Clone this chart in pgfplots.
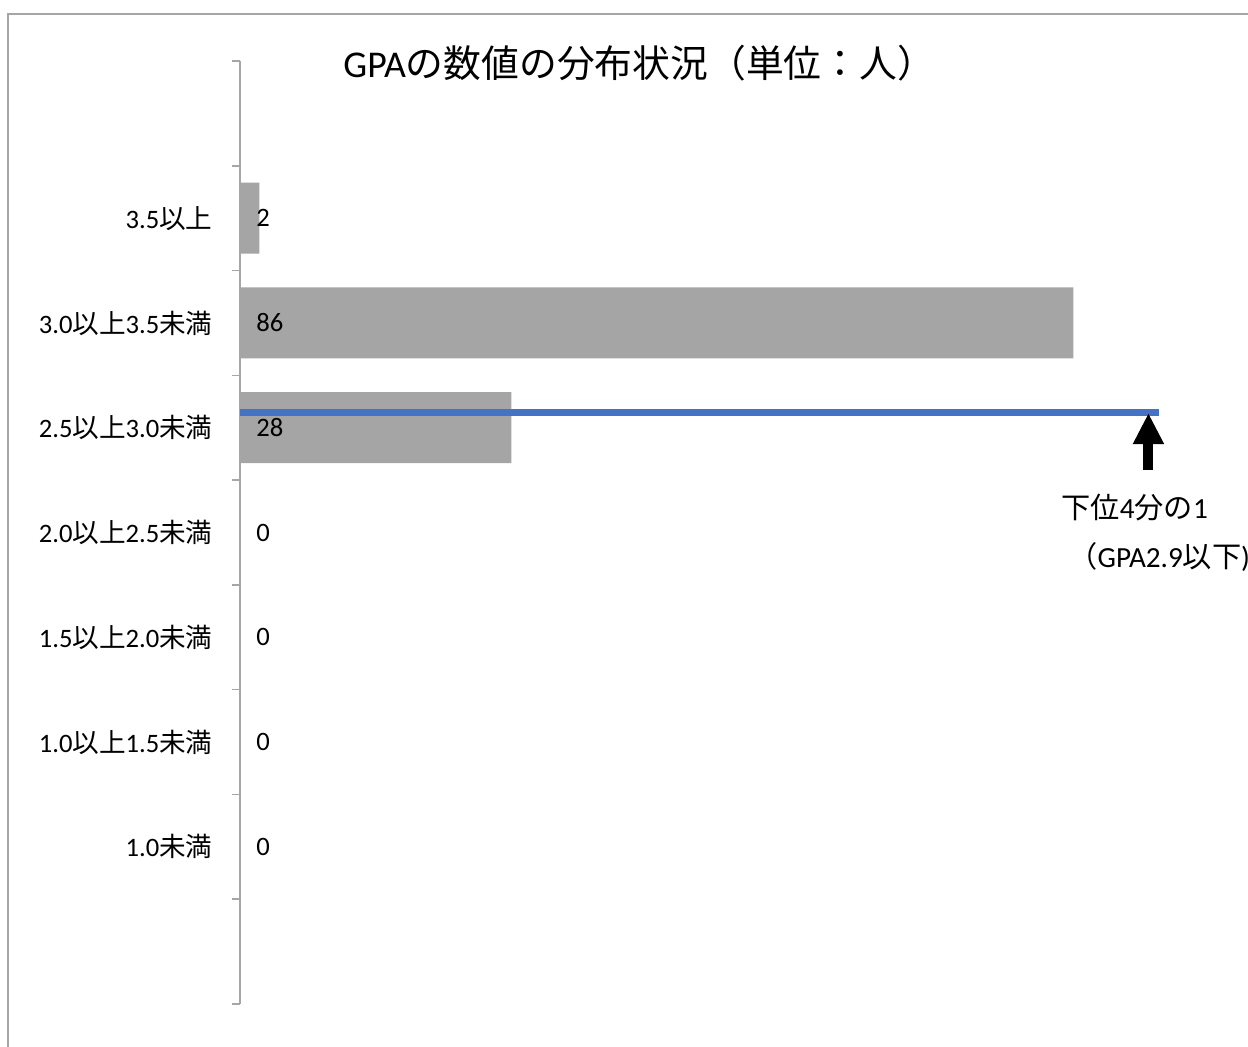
\documentclass[border=0pt]{standalone}
\usepackage{fontspec}
\setmainfont{Carlito}
\newfontfamily\cjk{Noto Sans CJK JP}
\newcommand\jp[1]{{\cjk #1}}
\usepackage{pgfplots}
\usepackage{pgfplotstable}
\pgfplotsset{compat=1.18}
\usetikzlibrary{arrows.meta}
\definecolor{bargray}{HTML}{A5A5A5}
\definecolor{axgray}{HTML}{A6A6A6}
\definecolor{lineblue}{HTML}{4472C4}

% pos: slot on the y axis (1 = bottom category), val: number of students
\pgfplotstableread{
pos val
1 0
2 0
3 0
4 0
5 28
6 86
7 2
}\gpadata

\begin{document}
\begin{tikzpicture}[x=0.5pt, y=-0.5pt]
    \useasboundingbox (0,0) rectangle (1248,1046);
    \draw[axgray, line width=0.7pt] (8,14) rectangle (1300,1100);

    \begin{axis}[
        at={(120pt,-502pt)}, anchor=south west,
        scale only axis,
        width=484.5pt, height=471.5pt,
        xmin=0, xmax=100,
        ymin=-0.5, ymax=8.5,
        clip=false,
        axis x line=none,
        axis y line=left,
        y axis line style={-, draw=axgray, line width=0.75pt},
        ytick={-0.5,0.5,...,8.5},
        yticklabels={},
        tick align=outside,
        major tick length=4pt,
        ytick style={draw=axgray, line width=0.75pt},
        extra y ticks={1,2,3,4,5,6,7},
        extra y tick labels={
            1.0\jp{未満},
            1.0\jp{以上}1.5\jp{未満},
            1.5\jp{以上}2.0\jp{未満},
            2.0\jp{以上}2.5\jp{未満},
            2.5\jp{以上}3.0\jp{未満},
            3.0\jp{以上}3.5\jp{未満},
            3.5\jp{以上}
        },
        extra y tick style={major tick length=0pt, ytick style={draw=none}},
        yticklabel style={font=\fontsize{13.3pt}{16pt}\selectfont, anchor=east, inner sep=0pt, xshift=-13.5pt},
        /pgf/number format/assume math mode=true,
    ]
        % bars
        \addplot[xbar, bar width=35.5pt, fill=bargray, draw=none]
            table[x=val, y=pos] {\gpadata};
        % lower quarter line (GPA 2.9)
        \addplot[draw=lineblue, line width=3.5pt] coordinates {(0,5.15) (94.8,5.15)};
        % arrow
        \addplot[black, line width=5pt, -{Triangle[width=14.5pt, length=15.5pt]}]
            coordinates {(93.75,4.60) (93.75,5.14)};
        % data labels at the bar base
        \addplot[only marks, mark=none, point meta=explicit,
            nodes near coords,
            nodes near coords style={anchor=west, inner sep=0pt, xshift=8pt,
                font=\fontsize{13.3pt}{16pt}\selectfont, text=black}]
            table[x expr=0, y=pos, meta=val] {\gpadata};
    \end{axis}

    \node[anchor=base west, inner sep=0pt, font=\fontsize{18.9pt}{22pt}\selectfont]
        at (343,77) {GPA\jp{の数値の分布状況（単位：人）}};
    \node[anchor=base west, inner sep=0pt, font=\fontsize{14.6pt}{17pt}\selectfont]
        at (1061,518) {\jp{下位}4\jp{分の}1};
    \node[anchor=base west, inner sep=0pt, font=\fontsize{14.6pt}{17pt}\selectfont]
        at (1068,567) {\jp{（}GPA2.9\jp{以下})};
\end{tikzpicture}
\end{document}
